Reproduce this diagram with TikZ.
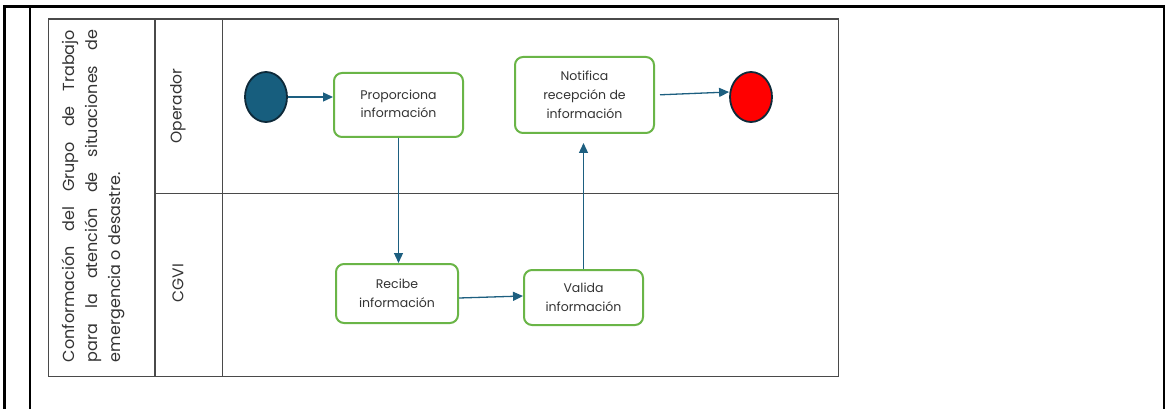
\documentclass[tikz,border=0pt]{standalone}
\usepackage{fontspec}
\setmainfont{Poppins}
\usetikzlibrary{shapes.geometric,arrows.meta}
\definecolor{flow}{HTML}{1D5F80}
\definecolor{startc}{HTML}{175E7E}
\definecolor{dark}{HTML}{0E2A3A}
\definecolor{boxg}{HTML}{6AB547}
\definecolor{txt}{HTML}{333333}
\definecolor{grid}{HTML}{4A4A4A}
\tikzset{
  task/.style={draw=boxg, line width=2pt, rounded corners=8pt, fill=white,
    align=center, text=txt, font=\fontsize{12.5}{19}\selectfont, inner sep=0pt},
  event/.style={ellipse, draw=dark, line width=1.8pt, minimum width=42pt, minimum height=50pt, inner sep=0pt},
  flowarrow/.style={draw=flow, line width=1.3pt, -{Triangle[length=10pt,width=9pt]}},
  frame/.style={draw=black, line width=2.2pt},
  lane/.style={draw=grid, line width=1.2pt},
  lanelabel/.style={rotate=90, text=txt, font=\fontsize{15.5}{17}\selectfont}
}
\begin{document}
\begin{tikzpicture}[x=1pt,y=-1pt]
\useasboundingbox (0,0) rectangle (1167,409);
% outer table frame
\coordinate (tl) at (4,6.5);
\coordinate (tr) at (1165,6.5);
\draw[frame] (tl) -- (tr);
\draw[frame] (4.5,5.5) -- (4.5,409);
\draw[frame] (30,6) -- (30,409);
\draw[frame] (1164,6) -- (1164,409);
% pool
\draw[lane] (48.5,19) rectangle (838.5,376.5);
\draw[lane] (155,19) -- (155,376.5);
\draw[lane] (222.5,19) -- (222.5,376.5);
\draw[lane] (155,193.3) -- (838.5,193.3);
% titles
\node[rotate=90, text width=332pt, align=justify, text=txt, inner sep=0pt,
  font=\fontsize{16}{23}\selectfont] (title) at (93.5,196)
  {\hyphenpenalty=10000 Conformación del Grupo de Trabajo\linebreak para la atención de situaciones de\linebreak emergencia o desastre.};
\node[lanelabel] (op) at (178,106) {Operador};
\node[lanelabel] (cg) at (178,283) {CGVI};
% nodes
\node[event, fill=startc] (start) at (266,97) {};
\node[event, fill=red] (end) at (751,97) {};
\node[task, minimum width=129pt, minimum height=64pt] (prop) at (398.5,105)
  {\raisebox{5pt}{\begin{tabular}{@{}c@{}}Proporciona\\[-1pt]información\end{tabular}}};
\node[task, minimum width=139pt, minimum height=76pt] (notif) at (584.5,95)
  {Notifica\\recepción de\\información};
\node[task, minimum width=122pt, minimum height=59pt] (recibe) at (397,293.5)
  {Recibe\\información};
\node[task, minimum width=119pt, minimum height=55pt] (valida) at (583.5,297.5)
  {Valida\\información};
% flows
\draw[flowarrow] (start.east) -- (start.east -| prop.west);
\draw[flowarrow] (prop.south) -- (prop.south |- recibe.north);
\draw[flowarrow] ([yshift=-4.5pt]recibe.east) -- ([yshift=1.5pt]valida.west);
\draw[flowarrow, shorten >=9pt] (valida.north) -- (valida.north |- notif.south);
\draw[flowarrow, shorten <=5pt] (notif.east) -- ([yshift=5pt]end.west);
\end{tikzpicture}
\end{document}
